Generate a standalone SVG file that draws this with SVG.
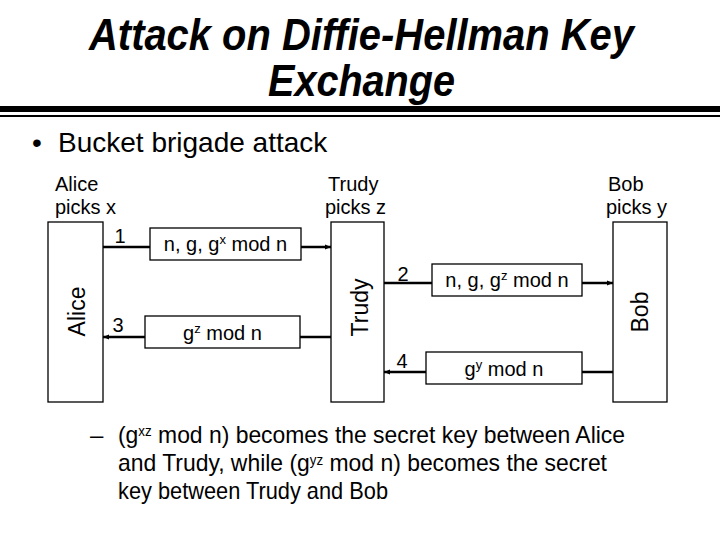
<svg xmlns="http://www.w3.org/2000/svg" width="720" height="540" viewBox="0 0 720 540">
<defs>
<marker id="arr" viewBox="0 0 10 10" refX="10" refY="5" markerWidth="6" markerHeight="6" markerUnits="userSpaceOnUse" orient="auto">
<path d="M0,1 L10,5 L0,9 z" fill="#000"/>
</marker>
<style>
text{font-family:"Liberation Sans",Arial,sans-serif;fill:#000}
.title{font-size:45px;font-weight:bold;font-style:italic}
.bul{font-size:28px}
.lab{font-size:20px}
.vert{font-size:23px}
.msg{font-size:20px}
.body{font-size:24px}
.sup{font-size:14px}
.box{fill:#fff;stroke:#000;stroke-width:1.3}
.ln{stroke:#000;stroke-width:2.5;fill:none}
</style>
</defs>
<rect width="720" height="540" fill="#fff"/>
<text class="title" x="89" y="50" textLength="545" lengthAdjust="spacingAndGlyphs">Attack on Diffie-Hellman Key</text>
<text class="title" x="268" y="96" textLength="187" lengthAdjust="spacingAndGlyphs">Exchange</text>
<rect x="0" y="106" width="720" height="6" fill="#000"/>
<rect x="0" y="115" width="720" height="2" fill="#000"/>
<text class="bul" x="32" y="152">•</text>
<text class="bul" x="58" y="152">Bucket brigade attack</text>

<g id="alice">
<text class="lab" x="55" y="191">Alice</text>
<text class="lab" x="55" y="214">picks x</text>
<rect class="box" x="48" y="222" width="55" height="180"/>
<text class="vert" transform="translate(85,311.5) rotate(-90)" text-anchor="middle">Alice</text>
</g>
<g id="trudy">
<text class="lab" x="328" y="191">Trudy</text>
<text class="lab" x="325" y="214">picks z</text>
<rect class="box" x="331" y="222" width="53" height="180"/>
<text class="vert" transform="translate(368,307.5) rotate(-90)" text-anchor="middle">Trudy</text>
</g>
<g id="bob">
<text class="lab" x="608" y="191">Bob</text>
<text class="lab" x="606" y="214">picks y</text>
<rect class="box" x="613" y="222" width="54" height="180"/>
<text class="vert" transform="translate(648,312) rotate(-90)" text-anchor="middle">Bob</text>
</g>

<g id="connectors">
<line class="ln" x1="103" y1="247" x2="150" y2="247"/>
<line class="ln" x1="301" y1="247" x2="331" y2="247" marker-end="url(#arr)"/>
<line class="ln" x1="331" y1="337" x2="300" y2="337"/>
<line class="ln" x1="145" y1="337" x2="103" y2="337" marker-end="url(#arr)"/>
<line class="ln" x1="384" y1="283" x2="432" y2="283"/>
<line class="ln" x1="582" y1="283" x2="613" y2="283" marker-end="url(#arr)"/>
<line class="ln" x1="613" y1="372" x2="582" y2="372"/>
<line class="ln" x1="426" y1="372" x2="384" y2="372" marker-end="url(#arr)"/>
<text class="lab" x="120" y="243" text-anchor="middle">1</text>
<text class="lab" x="118" y="332" text-anchor="middle">3</text>
<text class="lab" x="403" y="281" text-anchor="middle">2</text>
<text class="lab" x="402" y="368" text-anchor="middle">4</text>
</g>

<g id="msg1">
<rect class="box" x="150" y="228" width="151" height="32"/>
<text class="msg" x="225.5" y="251" text-anchor="middle">n, g, g<tspan font-size="13" dy="-7">x</tspan><tspan dy="7"> mod n</tspan></text>
</g>
<g id="msg3">
<rect class="box" x="145" y="316" width="155" height="32"/>
<text class="msg" x="222.5" y="340" text-anchor="middle">g<tspan font-size="13" dy="-7">z</tspan><tspan dy="7"> mod n</tspan></text>
</g>
<g id="msg2">
<rect class="box" x="432" y="264" width="150" height="32"/>
<text class="msg" x="507" y="287" text-anchor="middle">n, g, g<tspan font-size="13" dy="-7">z</tspan><tspan dy="7"> mod n</tspan></text>
</g>
<g id="msg4">
<rect class="box" x="426" y="352" width="156" height="32"/>
<text class="msg" x="504" y="376" text-anchor="middle">g<tspan font-size="13" dy="-7">y</tspan><tspan dy="7"> mod n</tspan></text>
</g>

<text class="body" x="90" y="443">–</text>
<text class="body" x="118" y="443" textLength="507" lengthAdjust="spacingAndGlyphs">(g<tspan class="sup" dy="-7">xz</tspan><tspan dy="7"> mod n) becomes the secret key between Alice</tspan></text>
<text class="body" x="118" y="471" textLength="489" lengthAdjust="spacingAndGlyphs">and Trudy, while (g<tspan class="sup" dy="-6">yz</tspan><tspan dy="6"> mod n) becomes the secret</tspan></text>
<text class="body" x="118" y="499" textLength="270" lengthAdjust="spacingAndGlyphs">key between Trudy and Bob</text>
</svg>
